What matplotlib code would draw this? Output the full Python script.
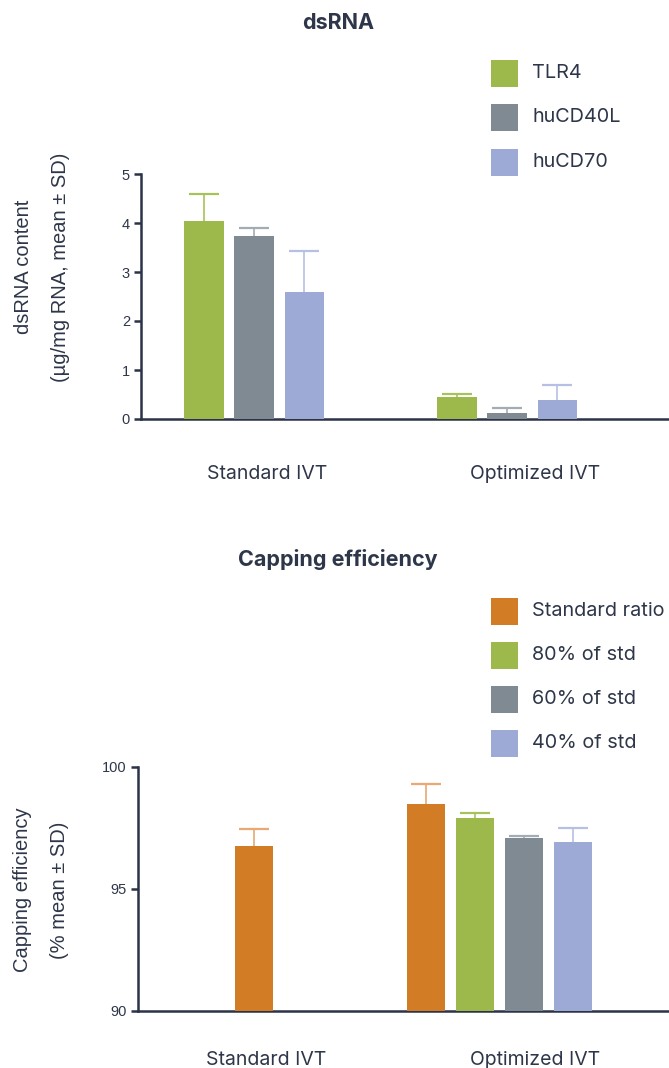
import matplotlib
matplotlib.use("Agg")
import matplotlib.pyplot as plt
from matplotlib.patches import Rectangle
import numpy as np

# dsRNA content per construct (µg/mg RNA)
groups = ["Standard IVT", "Optimized IVT"]
dsrna_series = ["TLR4", "huCD40L", "huCD70"]
tlr4_mean = [4.05, 0.44]
tlr4_sd = [0.54, 0.07]
cd40l_mean = [3.74, 0.13]
cd40l_sd = [0.16, 0.09]
cd70_mean = [2.60, 0.39]
cd70_sd = [0.82, 0.30]

# capping efficiency (%) per cap analog ratio, nan = not run
capping_series = ["Standard ratio", "80% of std", "60% of std", "40% of std"]
std_mean = [96.75, 98.47]
std_sd = [0.70, 0.83]
p80_mean = [np.nan, 97.90]
p80_sd = [np.nan, 0.23]
p60_mean = [np.nan, 97.08]
p60_sd = [np.nan, 0.11]
p40_mean = [np.nan, 96.92]
p40_sd = [np.nan, 0.58]

GREEN, GREY, LILAC, ORANGE = "#9db84b", "#808a93", "#9eaad6", "#d27c26"
ERR = {GREEN: "#a6c258", GREY: "#a3abb3", LILAC: "#b5c0e4", ORANGE: "#e9a874"}
INK = "#2e3649"
AXIS = "#2b3346"

TEXT_FONT = ["Inter", "DejaVu Sans"]
NUM_FONT = ["Liberation Sans", "DejaVu Sans"]

W, H = 669, 1068
fig = plt.figure(figsize=(W / 100, H / 100), dpi=100)


def px_axes(left, top, right, bottom):
    return fig.add_axes([left / W, 1 - bottom / H, (right - left) / W, (bottom - top) / H])


def grouped_bars(ax, means, sds, colors, centers, step, width):
    # bars in each group are packed around the group centre, skipping missing series
    for g, c in enumerate(centers):
        present = [i for i in range(len(means)) if not np.isnan(means[i][g])]
        offs = (np.arange(len(present)) - (len(present) - 1) / 2) * step
        for k, i in enumerate(present):
            x = c + offs[k]
            ax.bar(x, means[i][g], width, color=colors[i], zorder=3)
            eb = ax.errorbar(x, means[i][g], yerr=[[0], [sds[i][g]]], fmt="none",
                             ecolor=ERR[colors[i]], elinewidth=1.2, capsize=11,
                             capthick=1.6, zorder=2)
            # upper SD only: hide the cap sitting on the bar top
            eb[1][0].set_visible(False)


def style(ax, label_x, label_pad):
    for s in ["top", "right"]:
        ax.spines[s].set_visible(False)
    for s in ["left", "bottom"]:
        ax.spines[s].set_color(AXIS)
        ax.spines[s].set_linewidth(1.8)
    ax.tick_params(axis="y", direction="out", length=5, width=1.8, color=AXIS,
                   labelsize=10.5, labelcolor=INK, pad=3)
    for lab in ax.get_yticklabels():
        lab.set_family(NUM_FONT)
    ax.set_xticks(label_x)
    ax.set_xticklabels(groups, family=TEXT_FONT, fontsize=14, color=INK)
    ax.tick_params(axis="x", length=0, pad=label_pad)


def px_text(x, y, s, **kw):
    fig.text(x / W, 1 - y / H, s, color=INK, **kw)


def legend(labels, colors, y0, dy):
    for i, (lab, c) in enumerate(zip(labels, colors)):
        yc = y0 + i * dy
        fig.add_artist(Rectangle((491 / W, 1 - (yc + 13.5) / H), 27 / W, 27 / H,
                                 transform=fig.transFigure, color=c, lw=0))
        px_text(532, yc, lab, family=TEXT_FONT, fontsize=14.3, va="center")


# top panel: dsRNA
ax1 = px_axes(141, 174, 669, 419)
grouped_bars(ax1, [tlr4_mean, cd40l_mean, cd70_mean], [tlr4_sd, cd40l_sd, cd70_sd],
             [GREEN, GREY, LILAC], [0, 1], 0.198, 0.155)
ax1.set_xlim(-0.447, 1.64)
ax1.set_ylim(0, 5)
ax1.set_yticks(range(6))
style(ax1, [0.05, 1.11], 33)
px_text(338, 23, "dsRNA", family=TEXT_FONT, fontsize=15.5, fontweight="bold",
        ha="center", va="center")
px_text(42, 267, "dsRNA content\n(µg/mg RNA, mean ± SD)", family=NUM_FONT,
        fontsize=14.5, rotation=90, ha="center", va="center", linespacing=2.2)
legend(dsrna_series, [GREEN, GREY, LILAC], 73, 44.5)

# bottom panel: capping efficiency
ax2 = px_axes(138, 767, 669, 1011)
grouped_bars(ax2, [std_mean, p80_mean, p60_mean, p40_mean],
             [std_sd, p80_sd, p60_sd, p40_sd],
             [ORANGE, GREEN, GREY, LILAC], [0, 0.97], 0.194, 0.150)
ax2.set_xlim(-0.458, 1.64)
ax2.set_ylim(90, 100)
ax2.set_yticks([90, 95, 100])
style(ax2, [0.05, 1.11], 29)
px_text(338, 560, "Capping efficiency", family=TEXT_FONT, fontsize=15.5,
        fontweight="bold", ha="center", va="center")
px_text(41, 890, "Capping efficiency\n(% mean ± SD)", family=NUM_FONT,
        fontsize=14.5, rotation=90, ha="center", va="center", linespacing=2.2)
legend(capping_series, [ORANGE, GREEN, GREY, LILAC], 611, 44)

fig.savefig("out.png", dpi=100)
